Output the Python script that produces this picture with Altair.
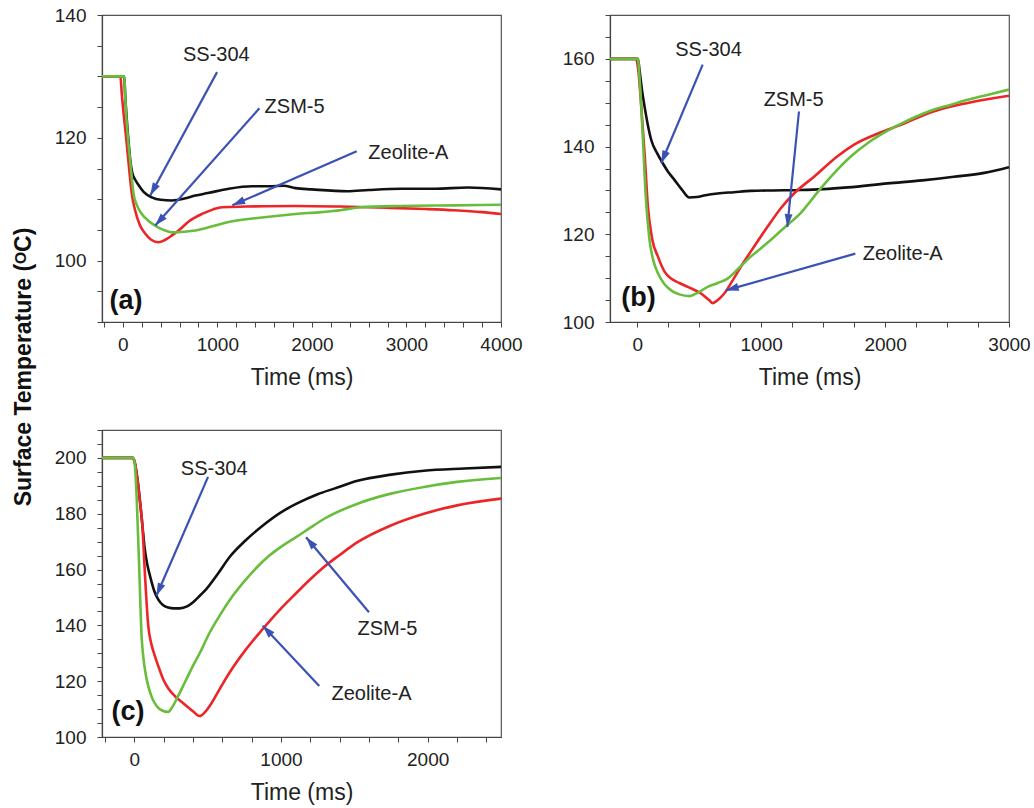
import math
import altair as alt
import pandas as pd

FONT = "Liberation Sans"
C_BLACK, C_RED, C_GREEN, C_BLUE = "#111111", "#ec2528", "#68bd3c", "#3b52b4"
SERIES = ["SS-304", "Zeolite-A", "ZSM-5"]
COLORS = [C_BLACK, C_RED, C_GREEN]

# ---------------- panel (a) ----------------
a_black_t = [-220, 15, 25, 60, 78, 100, 130, 166, 220, 307, 400, 520, 650, 767, 900, 1120, 1368, 1550, 1700, 1827, 2000, 2375, 2600, 2940, 3300, 3650, 4000]
a_black_v = [130, 130, 127, 119.5, 116.5, 114.3, 113.2, 112.3, 111.2, 110.3, 109.9, 109.8, 110.1, 110.6, 111.0, 111.7, 112.1, 112.1, 112.2, 111.8, 111.6, 111.3, 111.5, 111.7, 111.7, 111.9, 111.6]
a_red_t = [-220, -25, -11, 15, 42, 70, 95, 130, 180, 236, 300, 378, 450, 520, 590, 700, 838, 950, 1050, 1300, 1827, 2300, 2800, 3200, 3500, 3800, 4000]
a_red_v = [130, 130, 127.2, 123, 119, 114.5, 110.9, 108.2, 105.8, 104.4, 103.4, 103.0, 103.4, 104.1, 104.9, 106.4, 107.6, 108.3, 108.7, 108.8, 108.9, 108.8, 108.6, 108.4, 108.2, 107.9, 107.6]
a_green_t = [-220, 17, 24, 60, 78, 113, 150, 201, 270, 342, 430, 519, 650, 767, 900, 1120, 1400, 1827, 2100, 2300, 2517, 2940, 3500, 4000]
a_green_v = [130, 130, 127.2, 119, 116.3, 110.9, 109, 107.6, 106.5, 105.7, 105.0, 104.6, 104.7, 104.9, 105.4, 106.3, 106.9, 107.6, 107.9, 108.2, 108.7, 108.9, 109.0, 109.1]

# ---------------- panel (b) ----------------
b_black_t = [-220, 5, 20, 40, 59, 85, 113, 160, 206, 250, 300, 360, 420, 480, 550, 648, 780, 916, 1100, 1318, 1500, 1700, 2019, 2300, 2555, 2800, 3000]
b_black_v = [160, 160, 157, 152.5, 149.1, 145, 141.5, 138.5, 136.2, 134.2, 132.4, 130.2, 128.4, 128.5, 128.9, 129.3, 129.6, 129.9, 130.0, 130.1, 130.3, 130.7, 131.6, 132.3, 133.1, 134.0, 135.3]
b_red_t = [-220, -10, 10, 30, 60, 86, 120, 167, 220, 273, 340, 408, 515, 580, 609, 650, 702, 770, 836, 950, 1051, 1160, 1265, 1429, 1611, 1747, 1961, 2122, 2390, 2658, 3000]
b_red_v = [160, 160, 157, 150, 138, 126.3, 119, 114.9, 111.5, 109.9, 108.9, 108.0, 106.5, 105.0, 104.3, 105.0, 106.5, 109.5, 112.6, 117.5, 121.7, 126.0, 129.3, 133.2, 137.7, 140.4, 143.2, 144.9, 148.0, 149.9, 151.6]
b_green_t = [-220, 5, 20, 46, 70, 99, 130, 167, 220, 273, 340, 420, 490, 568, 650, 729, 820, 916, 1010, 1104, 1211, 1318, 1399, 1479, 1600, 1721, 1850, 1989, 2122, 2257, 2390, 2525, 2658, 2800, 3000]
b_green_v = [160, 160, 155, 141.5, 128, 118.7, 114, 111.1, 108.6, 107.2, 106.3, 105.9, 106.7, 108.0, 108.9, 109.9, 112.3, 114.9, 117.1, 119.4, 122.1, 124.8, 127.6, 130.4, 134.3, 137.7, 140.6, 143.1, 145.1, 146.9, 148.4, 149.5, 150.6, 151.6, 153.0]

# ---------------- panel (c) ----------------
c_black_t = [-220, -10, 5, 20, 40, 55, 70, 88, 106, 135, 163, 195, 231, 270, 310, 360, 401, 450, 491, 570, 650, 760, 877, 1000, 1103, 1250, 1363, 1522, 1750, 1974, 2250, 2500]
c_black_v = [200, 200, 198, 193, 184, 176, 168, 162, 158, 152.5, 149.3, 147.3, 146.4, 146.1, 146.1, 146.8, 148.3, 150.8, 153, 158.5, 164.5, 170.5, 175.8, 180.5, 183.5, 187, 189, 191.8, 194, 195.4, 196.2, 196.8]
c_red_t = [-220, -10, 5, 20, 40, 55, 72, 95, 118, 140, 170, 197, 235, 276, 320, 356, 400, 446, 480, 514, 580, 650, 760, 876, 990, 1103, 1200, 1295, 1400, 1522, 1749, 1975, 2201, 2500]
c_red_v = [200, 200, 198, 193, 184, 176, 159, 140, 133, 129.1, 124.5, 120.7, 117.2, 114.7, 112.7, 111.1, 109.2, 107.5, 108.8, 111.1, 117, 123.1, 131.3, 138.7, 145.5, 151.5, 156.5, 161, 165.2, 169.8, 175.8, 180, 183, 185.4]
c_green_t = [-220, -5, 5, 17, 34, 50, 61, 78, 95, 120, 152, 190, 231, 260, 299, 356, 400, 446, 510, 582, 670, 763, 840, 921, 1010, 1103, 1200, 1295, 1522, 1749, 1975, 2201, 2500]
c_green_v = [200, 200, 197, 185, 160, 136, 129, 122.5, 118.3, 114.2, 111.1, 109.5, 109.0, 110.8, 114.7, 120.8, 125.5, 130, 137, 143.5, 150.5, 156.6, 161, 165, 168.5, 171.6, 175, 178.2, 183.6, 187.2, 189.6, 191.4, 192.8]

# ---------------- annotations: label text, label position, arrow start, arrow tip ----------------
a_ann_text = ["SS-304", "ZSM-5", "Zeolite-A"]
a_ann_tx = [989, 1817, 3020]
a_ann_ty = [133.5, 125.0, 117.6]
a_arr_x1 = [997, 1445, 2474]
a_arr_y1 = [130.7, 124.8, 117.8]
a_arr_x2 = [290, 343, 1159]
a_arr_y2 = [110.6, 105.7, 109.0]

b_ann_text = ["SS-304", "ZSM-5", "Zeolite-A"]
b_ann_tx = [575, 1262, 2142]
b_ann_ty = [162.0, 150.7, 115.6]
b_arr_x1 = [528, 1305, 1760]
b_arr_y1 = [158.7, 148.0, 115.6]
b_arr_x2 = [193, 1211, 715]
b_arr_y2 = [136.2, 121.7, 107.2]

c_ann_text = ["SS-304", "ZSM-5", "Zeolite-A"]
c_ann_tx = [545, 1726, 1617]
c_ann_ty = [196.1, 138.7, 115.3]
c_arr_x1 = [503, 1600, 1261]
c_arr_y1 = [193.2, 144.7, 118.3]
c_arr_x2 = [151, 1171, 876]
c_arr_y2 = [150.6, 171.6, 139.9]

panel_tags = ["(a)", "(b)", "(c)"]
tag_x = [-140, -130, -155]
tag_y = [93.5, 105.4, 108.9]

W, H = 399, 307
ARROW_PATH = "M0,0L-0.42,1.35L0.42,1.35Z"


def lines_df(tb, vb, tr, vr, tg, vg):
    rows = []
    for name, ts, vs in [("SS-304", tb, vb), ("Zeolite-A", tr, vr), ("ZSM-5", tg, vg)]:
        for t, v in zip(ts, vs):
            rows.append({"series": name, "t": t, "T": v})
    return pd.DataFrame(rows)


def panel(df, texts, tx, ty, x1, y1, x2, y2, tag, tgx, tgy, xdom, ydom, xstep):
    sx = W / (xdom[1] - xdom[0])
    sy = H / (ydom[1] - ydom[0])
    angs = []
    for a, b, c, d in zip(x1, y1, x2, y2):
        dxp = (c - a) * sx
        dyp = -(d - b) * sy
        angs.append(math.degrees(math.atan2(dxp, -dyp)) % 360)
    ann = pd.DataFrame({"text": texts, "tx": tx, "ty": ty, "x1": x1, "y1": y1,
                        "x2": x2, "y2": y2, "ang": angs})
    tagdf = pd.DataFrame({"tag": [tag], "x": [tgx], "y": [tgy]})

    xs = alt.Scale(domain=xdom, nice=False, zero=False)
    ys = alt.Scale(domain=ydom, nice=False, zero=False)
    xvals = [v for v in range(-1000, xdom[1] + 1, xstep) if v >= xdom[0]]
    yvals = list(range(ydom[0], ydom[1] + 1, 5))

    def xaxis():
        return alt.Axis(values=xvals, format="d", title="Time (ms)",
                        labelExpr="datum.value % 1000 === 0 ? datum.label : ''")

    def yaxis():
        return alt.Axis(values=yvals, format="d", title=None,
                        labelExpr="datum.value % 20 === 0 ? datum.label : ''")

    lines = alt.Chart(df).mark_line(strokeWidth=2.6, clip=True, interpolate="monotone").encode(
        x=alt.X("t:Q", scale=xs, axis=xaxis()),
        y=alt.Y("T:Q", scale=ys, axis=yaxis()),
        color=alt.Color("series:N", scale=alt.Scale(domain=SERIES, range=COLORS), legend=None),
        order=alt.Order("t:Q"),
    )
    rules = alt.Chart(ann).mark_rule(color=C_BLUE, strokeWidth=2.2).encode(
        x=alt.X("x1:Q", scale=xs, axis=xaxis()), y=alt.Y("y1:Q", scale=ys, axis=yaxis()),
        x2="x2:Q", y2="y2:Q")
    heads = alt.Chart(ann).mark_point(shape=ARROW_PATH, filled=True, size=360,
                                      color=C_BLUE, opacity=1, strokeWidth=0).encode(
        x=alt.X("x2:Q", scale=xs, axis=xaxis()), y=alt.Y("y2:Q", scale=ys, axis=yaxis()),
        angle=alt.Angle("ang:Q", scale=None))
    labels = alt.Chart(ann).mark_text(font=FONT, fontSize=20, color="#222222").encode(
        x=alt.X("tx:Q", scale=xs, axis=xaxis()), y=alt.Y("ty:Q", scale=ys, axis=yaxis()),
        text="text:N")
    tags = alt.Chart(tagdf).mark_text(font=FONT, fontSize=27, fontWeight="bold",
                                      align="left", color="#111111").encode(
        x=alt.X("x:Q", scale=xs, axis=xaxis()), y=alt.Y("y:Q", scale=ys, axis=yaxis()),
        text="tag:N")
    return alt.layer(lines, rules, heads, labels, tags).properties(width=W, height=H)


pa = panel(lines_df(a_black_t, a_black_v, a_red_t, a_red_v, a_green_t, a_green_v),
           a_ann_text, a_ann_tx, a_ann_ty, a_arr_x1, a_arr_y1, a_arr_x2, a_arr_y2,
           panel_tags[0], tag_x[0], tag_y[0], [-220, 4000], [90, 140], 200)
pb = panel(lines_df(b_black_t, b_black_v, b_red_t, b_red_v, b_green_t, b_green_v),
           b_ann_text, b_ann_tx, b_ann_ty, b_arr_x1, b_arr_y1, b_arr_x2, b_arr_y2,
           panel_tags[1], tag_x[1], tag_y[1], [-220, 3000], [100, 170], 250)
pc = panel(lines_df(c_black_t, c_black_v, c_red_t, c_red_v, c_green_t, c_green_v),
           c_ann_text, c_ann_tx, c_ann_ty, c_arr_x1, c_arr_y1, c_arr_x2, c_arr_y2,
           panel_tags[2], tag_x[2], tag_y[2], [-220, 2500], [100, 210], 200)

chart = alt.concat(pa, pb, pc, columns=2, spacing={"row": 108, "column": 109},
                   bounds="flush").properties(
    title=alt.TitleParams("Surface Temperature (ᴼC)", orient="left", anchor="middle",
                          font=FONT, fontSize=23, fontWeight="bold", color="#111111",
                          offset=18, dx=38),
    padding={"left": 12, "top": 5, "right": 0, "bottom": 0},
    background="white",
).configure_view(stroke="#555555", strokeWidth=1.2).configure_axis(
    grid=False, labelFont=FONT, labelFontSize=19, labelColor="#222222",
    titleFont=FONT, titleFontSize=23, titleFontWeight="normal", titleColor="#222222",
    tickSize=5, tickColor="#444444", domainColor="#444444", domainWidth=1.2,
    labelPadding=8, titlePadding=12, labelOverlap=False, labelFlush=False,
).configure_axisY(labelPadding=11)

chart.save("out.html", embed_options={"renderer": "svg", "actions": False})
